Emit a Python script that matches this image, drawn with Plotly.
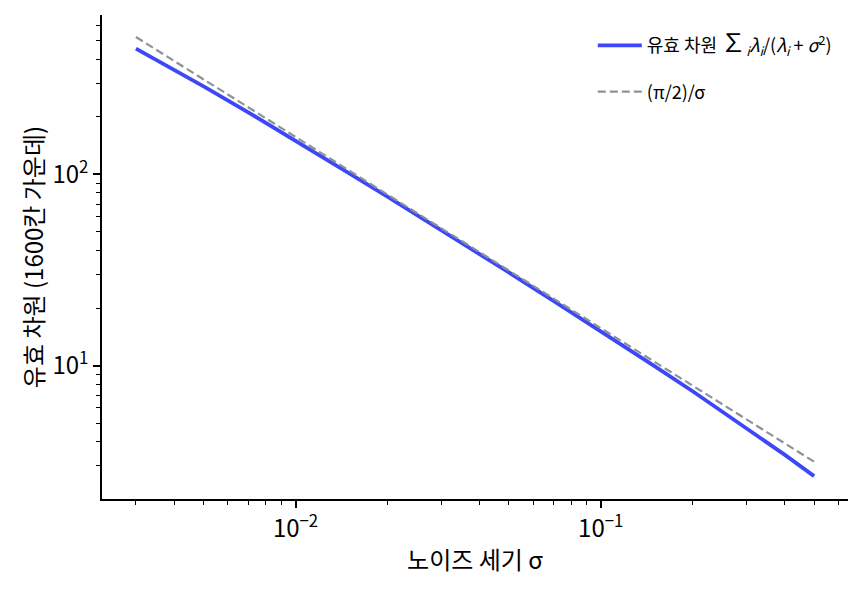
import plotly.graph_objects as go

# noise level sigma (x) and effective dimension
sigma = [0.003, 0.004, 0.005, 0.007, 0.01, 0.015, 0.02, 0.03, 0.05, 0.07, 0.1, 0.15, 0.2, 0.3, 0.4, 0.5]
eff_dim = [455, 353.5, 288.8, 211.2, 150.3, 101.4, 76.5, 51.2, 30.7, 21.8, 15.15, 9.94, 7.34, 4.73, 3.42, 2.64]

# reference line (pi/2)/sigma, read at the same sigma values
ref_line = [523.6, 392.7, 314.2, 224.4, 157.1, 104.7, 78.5, 52.4, 31.4, 22.4, 15.7, 10.47, 7.85, 5.24, 3.93, 3.14]

x_tickvals = [0.01, 0.1]
x_ticktext = ["10<sup>\u22122</sup>", "10<sup>\u22121</sup>"]
y_tickvals = [10, 100]
y_ticktext = ["10<sup>1</sup>", "10<sup>2</sup>"]
x_minor = [0.003, 0.004, 0.005, 0.006, 0.007, 0.008, 0.009,
           0.02, 0.03, 0.04, 0.05, 0.06, 0.07, 0.08, 0.09,
           0.2, 0.3, 0.4, 0.5, 0.6]
y_minor = [3, 4, 5, 6, 7, 8, 9, 20, 30, 40, 50, 60, 70, 80, 90, 200, 300, 400, 500, 600]

FONT = "Noto Sans CJK KR"

fig = go.Figure()
fig.add_trace(go.Scatter(
    x=sigma, y=eff_dim, mode="lines",
    line=dict(color="rgb(60,72,245)", width=3.8),
    legendgroup="a",
    name=("유효 차원 <span style='font-size:25px'>\u2211</span><sub><i>i</i></sub>"
          "<i>\u03bb<sub>i</sub></i>/(<i>\u03bb<sub>i</sub></i> + <i>\u03c3</i><sup>2</sup>)"),
))
fig.add_trace(go.Scatter(
    x=sigma, y=ref_line, mode="lines",
    line=dict(color="rgb(140,146,156)", width=2.2, dash="8px,4px"),
    legendgroup="b",
    name="(\u03c0/2)/\u03c3",
))

axis_common = dict(
    type="log", showgrid=False, zeroline=False,
    showline=True, linecolor="black", linewidth=1.6,
    ticks="outside", ticklen=7, tickwidth=1.6, tickcolor="black",
    tickfont=dict(family=FONT, size=24, color="black"),
    mirror=False,
)

fig.update_layout(
    width=861, height=591,
    margin=dict(l=102, r=13, t=15, b=92),
    paper_bgcolor="white", plot_bgcolor="white",
    font=dict(family=FONT, color="black"),
    showlegend=True,
    legend=dict(
        x=0.985, y=0.975, xanchor="right", yanchor="top",
        bgcolor="rgba(0,0,0,0)", borderwidth=0,
        font=dict(family=FONT, size=18, color="black"),
        tracegroupgap=20, itemwidth=44,
    ),
    xaxis=dict(
        axis_common,
        range=[-2.634, -0.19],
        tickmode="array", tickvals=x_tickvals, ticktext=x_ticktext,
        minor=dict(ticks="outside", ticklen=4, tickwidth=1.2, tickcolor="black",
                   tickmode="array", tickvals=x_minor, showgrid=False),
        title=dict(text="노이즈 세기 \u03c3", font=dict(family=FONT, size=24), standoff=10),
    ),
    yaxis=dict(
        axis_common,
        range=[0.302, 2.834],
        tickmode="array", tickvals=y_tickvals, ticktext=y_ticktext,
        minor=dict(ticks="outside", ticklen=4, tickwidth=1.2, tickcolor="black",
                   tickmode="array", tickvals=y_minor, showgrid=False),
        title=dict(text="유효 차원 (1600칸 가운데)", font=dict(family=FONT, size=24), standoff=2),
    ),
)

fig.write_html("out.html")
